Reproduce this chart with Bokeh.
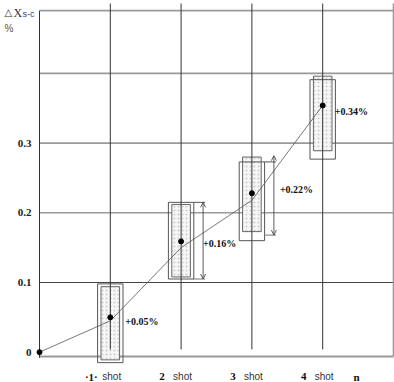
from bokeh.plotting import figure
from bokeh.models import Range1d, Arrow, OpenHead
from bokeh.core.properties import value
from bokeh.embed import file_html
from bokeh.resources import INLINE

# ---- data ----
shots = [1, 2, 3, 4]
shot_labels = ["·1·", "2", "3", "4"]
point_x = [0, 1, 2, 3, 4]
point_y = [0.0, 0.05, 0.159, 0.228, 0.354]
trend_y = [0.0, 0.045, 0.150, 0.218, 0.354]
outer_top = [0.098, 0.215, 0.273, 0.391]
outer_bottom = [-0.015, 0.105, 0.160, 0.277]
inner_top = [0.094, 0.212, 0.280, 0.396]
inner_bottom = [-0.011, 0.108, 0.173, 0.289]
pct_labels = ["+0.05%", "+0.16%", "+0.22%", "+0.34%"]
dim_shots = [2, 3]
dim_top = [0.215, 0.282]
dim_bottom = [0.105, 0.168]
dim_ext_top = [0.215, 0.273]
y_ticks = [0, 0.1, 0.2, 0.3]
y_tick_labels = ["0", "0.1", "0.2", "0.3"]
grid_gray = [0.2, 0.3, 0.4, 0.49]
grid_dark = [0.1]
x_end_label = "n"

# ---- layout (frame covers the whole canvas) ----
W, H = 394, 382
PPU = 70.8          # px per x unit
PPY = 697.0         # px per y unit
X0 = -39 / PPU
X1 = X0 + W / PPU
Y1 = 351.7 / PPY
Y0 = Y1 - H / PPY

def fx(px):
    return X0 + px / PPU

def fy(py):
    return Y1 - py / PPY

p = figure(width=W, height=H, x_range=Range1d(X0, X1), y_range=Range1d(Y0, Y1),
           output_backend="svg", toolbar_location=None, x_axis_location=None, y_axis_location=None,
           min_border_left=0, min_border_right=0, min_border_top=0, min_border_bottom=0)
p.grid.visible = False
p.outline_line_color = None
p.background_fill_color = "white"

XMAX = 5
YTOP = fy(3)
# horizontal grid
p.segment(x0=0, x1=XMAX, y0=grid_gray, y1=grid_gray, line_color="#9a9a9a", line_width=1.6)
p.segment(x0=0, x1=XMAX, y0=grid_dark, y1=grid_dark, line_color="#444444", line_width=1)
p.segment(x0=0, x1=XMAX, y0=-0.006, y1=-0.006, line_color="#9a9a9a", line_width=2)

# boxes
OW = 25.4 / PPU
IW = 18.6 / PPU
p.vbar(x=shots, top=inner_top, bottom=inner_bottom, width=IW, fill_color="#f6f6f6",
       line_color="#666666", line_width=1, hatch_pattern="dot", hatch_color="#cccccc",
       hatch_scale=4, hatch_weight=1)
p.vbar(x=shots, top=outer_top, bottom=outer_bottom, width=OW, fill_color=None,
       line_color="#555555", line_width=1)

# vertical grid
p.segment(x0=shots, x1=shots, y0=0.004, y1=YTOP, line_color="#333333", line_width=1)
p.segment(x0=XMAX, x1=XMAX, y0=-0.006, y1=YTOP, line_color="#9a9a9a", line_width=1.6)
p.segment(x0=0, x1=0, y0=-0.008, y1=0.49, line_color="#333333", line_width=1)

# dimension arrows
ADX = 22 / PPU
for s, t, b, et in zip(dim_shots, dim_top, dim_bottom, dim_ext_top):
    xa = s + ADX
    p.add_layout(Arrow(x_start=xa, y_start=b, x_end=xa, y_end=t,
                       start=OpenHead(size=5, line_width=0.8, line_color="#333333"),
                       end=OpenHead(size=5, line_width=0.8, line_color="#333333"),
                       line_width=0.8, line_color="#333333"))
    p.segment(x0=s + OW / 2, x1=xa + 2 / PPU, y0=et, y1=et, line_color="#555555", line_width=1)
    p.segment(x0=xa - 10 / PPU, x1=xa + 2 / PPU, y0=b, y1=b, line_color="#777777", line_width=1)

# trend line and points
p.line(point_x, trend_y, line_color="#555555", line_width=0.8)
p.scatter(point_x, point_y, size=5, color="black")

# percentage labels
p.text(x=shots, y=point_y[1:], text=pct_labels, x_offset=[15, 22, 28, 12], y_offset=[4, 2, -4, 6],
       text_font=value("Liberation Serif"), text_font_style="bold", text_font_size="10px",
       text_baseline="middle", text_align="left", text_color="#111111")

# y tick labels
p.text(x=[0] * len(y_ticks), y=y_ticks, text=y_tick_labels, x_offset=-8,
       text_font=value("Liberation Serif"), text_font_style="bold", text_font_size="11px",
       text_baseline="middle", text_align="right", text_color="#222222")

# x category labels
ylab = fy(376)
p.text(x=shots, y=[ylab] * 4, text=shot_labels, x_offset=-19, text_font=value("Liberation Serif"),
       text_font_style="bold", text_font_size="11px", text_baseline="middle", text_align="center",
       text_color="#111111")
p.text(x=shots, y=[ylab] * 4, text=["shot"] * 4, x_offset=-8, text_font=value("Liberation Sans"),
       text_font_size="10px", text_baseline="middle", text_align="left", text_color="#333333")
p.text(x=[XMAX], y=[ylab], text=[x_end_label], x_offset=-37, text_font=value("Liberation Serif"),
       text_font_style="bold", text_font_size="11px", text_baseline="middle", text_align="center",
       text_color="#111111")

# y-axis title
p.text(x=[fx(4)], y=[fy(12)], text=["△"], text_font=value("DejaVu Sans"), text_font_size="10px",
       text_baseline="middle", text_align="left", text_color="#333333")
p.text(x=[fx(13)], y=[fy(12)], text=["X"], text_font=value("Liberation Serif"), text_font_size="12px",
       text_baseline="middle", text_align="left", text_color="#333333")
p.text(x=[fx(22)], y=[fy(13)], text=["s-c"], text_font=value("Liberation Sans"), text_font_size="9px",
       text_baseline="middle", text_align="left", text_color="#34468a")
p.text(x=[fx(4)], y=[fy(28)], text=["%"], text_font=value("Liberation Sans"), text_font_size="10px",
       text_baseline="middle", text_align="left", text_color="#555555")

open("out.html", "w").write(file_html(p, INLINE))
